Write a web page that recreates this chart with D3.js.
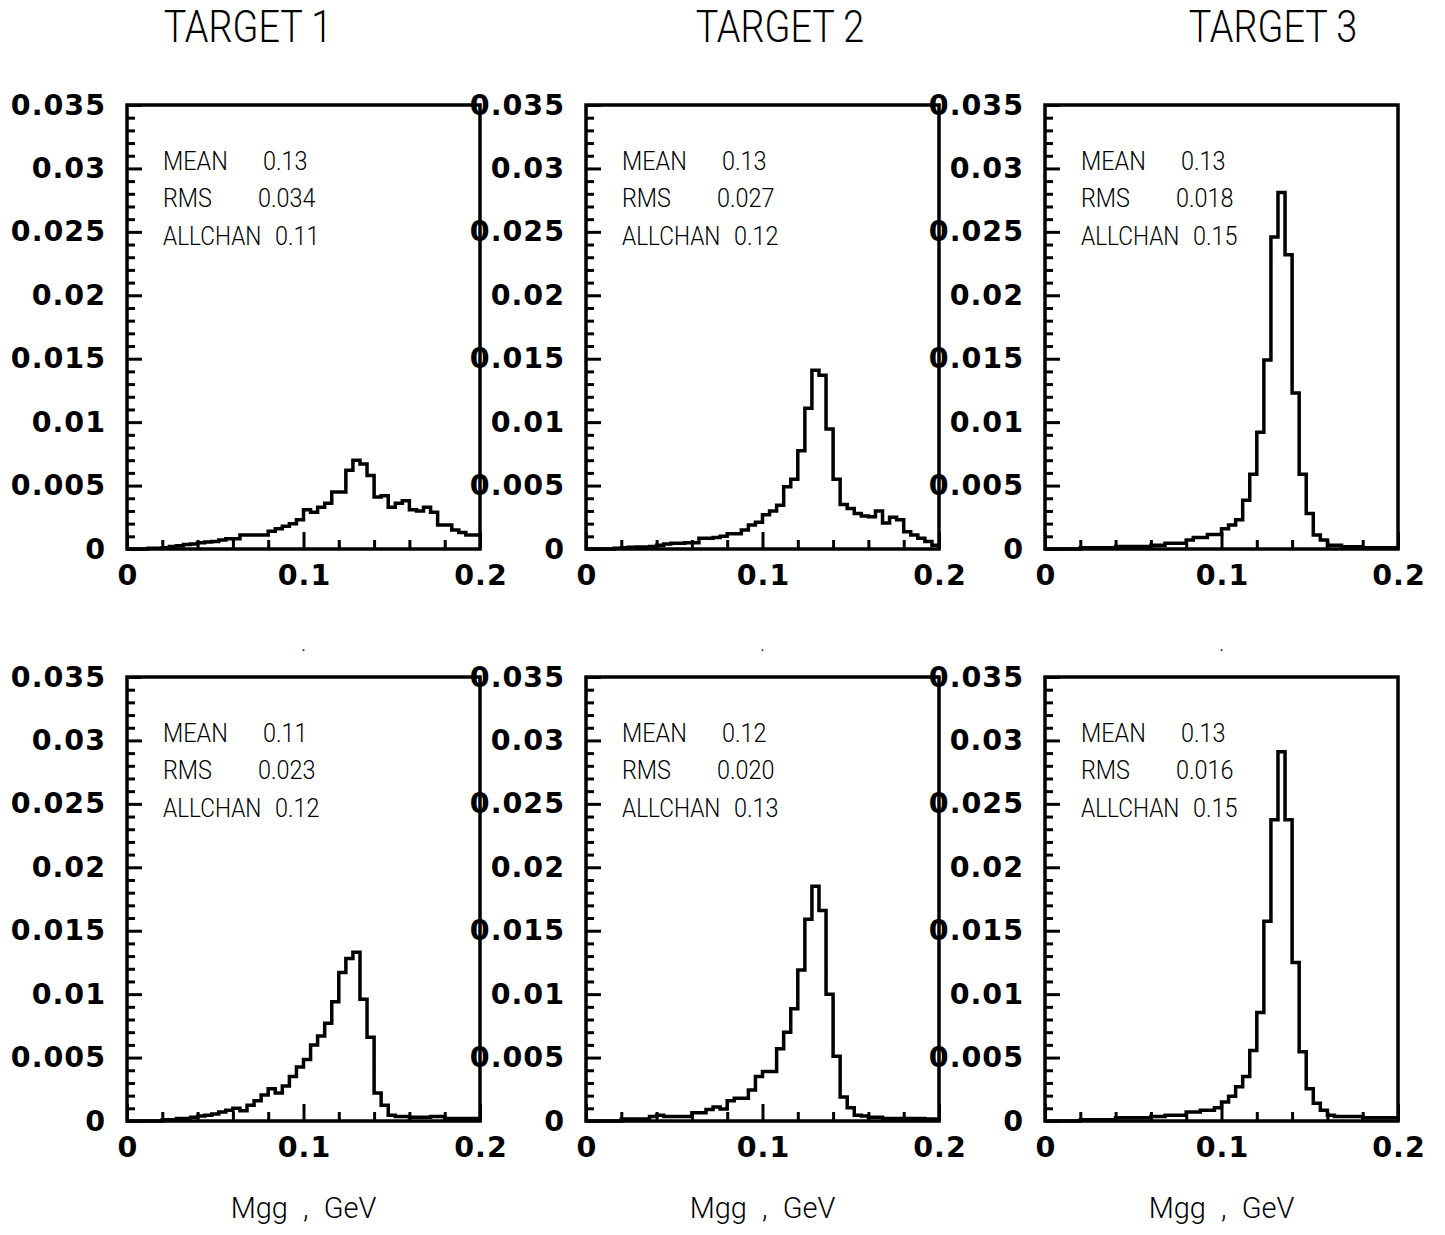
<!DOCTYPE html>
<html>
<head>
<meta charset="utf-8">
<script src="https://cdn.jsdelivr.net/npm/d3@7"></script>
<style>
    body { margin: 0; background: #fff; }
    .frame { fill: none; stroke: #000; stroke-width: 3.5; }
    .hist { fill: none; stroke: #000; stroke-width: 3.5; stroke-linejoin: miter; }
    .tick line { stroke: #000; stroke-width: 3; }
    .ticklabel text { font-family: "DejaVu Sans", sans-serif; font-weight: bold; font-size: 28.5px; letter-spacing: 1px; fill: #000; }
    .thin { font-family: Roboto, "Liberation Sans", sans-serif; font-weight: 300; fill: #000; }
</style>
</head>
<body>
<svg id="chart" width="1445" height="1235"></svg>
<script>
// column titles
var targets = ['TARGET 1', 'TARGET 2', 'TARGET 3'];
var xAxisTitle = 'Mgg , GeV';

// y axis in units of 1e-3
var yMajorTicks = [0, 5, 10, 15, 20, 25, 30, 35];
var yTickLabels = ['0', '0.005', '0.01', '0.015', '0.02', '0.025', '0.03', '0.035'];
var yMinorTicks = [1, 2, 3, 4, 6, 7, 8, 9, 11, 12, 13, 14, 16, 17, 18, 19, 21, 22, 23, 24, 26, 27, 28, 29, 31, 32, 33, 34];
var xMajorTicks = [0, 0.1, 0.2];
var xTickLabels = ['0', '0.1', '0.2'];
var xMinorTicks = [0.02, 0.04, 0.06, 0.08, 0.12, 0.14, 0.16, 0.18];

// statistics boxes, rows x columns
var meanValues = [['0.13', '0.13', '0.13'], ['0.11', '0.12', '0.13']];
var rmsValues = [['0.034', '0.027', '0.018'], ['0.023', '0.020', '0.016']];
var allchanValues = [['0.11', '0.12', '0.15'], ['0.12', '0.13', '0.15']];

// 50 bins of 0.004 GeV, contents in units of 1e-3
var histTopT1 = [0, 0, 0, 0.05, 0.05, 0.1, 0.2, 0.25, 0.35, 0.4,
    0.5, 0.55, 0.6, 0.7, 0.8, 0.8, 1.1, 1.1, 1.1, 1.1,
    1.4, 1.6, 1.8, 2.0, 2.3, 3.1, 2.9, 3.3, 3.6, 4.5,
    4.5, 6.2, 7.0, 6.7, 5.8, 4.1, 4.2, 3.3, 3.6, 3.8,
    3.1, 3.0, 3.3, 2.9, 1.9, 1.9, 1.5, 1.3, 1.1, 1.1];
var histTopT2 = [0, 0, 0, 0, 0.05, 0.1, 0.13, 0.15, 0.15, 0.2,
    0.3, 0.4, 0.45, 0.45, 0.5, 0.5, 0.85, 0.85, 0.9, 1.0,
    1.2, 1.2, 1.5, 1.9, 2.1, 2.7, 3.0, 3.45, 4.9, 5.5,
    7.75, 11.1, 14.1, 13.7, 9.45, 5.5, 3.5, 3.2, 2.8, 2.6,
    2.55, 3.0, 2.05, 2.5, 2.3, 1.35, 1.1, 0.85, 0.6, 0.3];
var histTopT3 = [0, 0, 0, 0, 0, 0.1, 0.1, 0.1, 0.1, 0.1,
    0.2, 0.2, 0.2, 0.2, 0.2, 0.3, 0.3, 0.45, 0.45, 0.45,
    0.7, 0.9, 0.9, 1.15, 1.15, 1.6, 1.9, 2.3, 3.85, 5.9,
    9.2, 14.9, 24.6, 28.1, 23.2, 12.3, 5.9, 2.8, 1.1, 0.7,
    0.3, 0.3, 0.18, 0.18, 0.18, 0.1, 0.1, 0.1, 0.1, 0.1];
var histBotT1 = [0, 0, 0, 0, 0, 0.1, 0.1, 0.2, 0.2, 0.3,
    0.4, 0.45, 0.55, 0.7, 0.85, 1.0, 0.8, 1.25, 1.6, 2.05,
    2.55, 2.2, 2.75, 3.5, 4.25, 4.85, 6.0, 6.7, 7.7, 9.4,
    11.7, 12.8, 13.3, 9.6, 6.6, 2.2, 1.25, 0.45, 0.35, 0.35,
    0.3, 0.3, 0.3, 0.35, 0.35, 0.2, 0.2, 0.2, 0.2, 0.2];
var histBotT2 = [0, 0, 0, 0, 0, 0.15, 0.15, 0.15, 0.15, 0.35,
    0.45, 0.35, 0.35, 0.35, 0.35, 0.65, 0.65, 0.9, 1.1, 0.95,
    1.6, 1.8, 1.8, 2.45, 3.5, 3.9, 3.9, 5.7, 7.0, 8.85,
    11.9, 15.9, 18.5, 16.6, 10.0, 5.1, 1.9, 1.05, 0.45, 0.4,
    0.3, 0.3, 0.2, 0.2, 0.2, 0.2, 0.2, 0.2, 0.15, 0.15];
var histBotT3 = [0, 0, 0, 0, 0, 0.1, 0.1, 0.1, 0.1, 0.1,
    0.25, 0.25, 0.25, 0.25, 0.25, 0.35, 0.35, 0.45, 0.45, 0.45,
    0.7, 0.7, 0.85, 0.85, 1.05, 1.5, 1.95, 2.7, 3.5, 5.55,
    8.55, 15.75, 23.75, 29.1, 23.75, 12.5, 5.45, 2.55, 1.4, 0.85,
    0.45, 0.35, 0.35, 0.35, 0.35, 0.25, 0.25, 0.25, 0.25, 0.25];

var histograms = [[histTopT1, histTopT2, histTopT3], [histBotT1, histBotT2, histBotT3]];

const BIN_WIDTH = 0.004;
const PANEL_LEFT = [127, 586, 1045];
const PANEL_TOP = [105, 677];
const PANEL_W = 353;
const PANEL_H = 444;
const TITLE_X = [248, 780, 1273];
const TEXT_SX = 0.9;

var svg = d3.select('#chart');

var addText = function (parent, x, y, str, size, sx, anchor) {
    return parent.append('text')
        .attr('class', 'thin')
        .attr('transform', 'translate(' + x + ',' + y + ') scale(' + sx + ',1)')
        .attr('text-anchor', anchor || 'start')
        .style('font-size', size + 'px')
        .text(str);
};

var drawPanel = function (row, col) {
    var left = PANEL_LEFT[col];
    var top = PANEL_TOP[row];
    var xScale = d3.scaleLinear().domain([0, 0.2]).range([left, left + PANEL_W]);
    var yScale = d3.scaleLinear().domain([0, 35]).range([top + PANEL_H, top]);
    var g = svg.append('g');

    // minor ticks
    g.append('g')
        .attr('transform', 'translate(' + left + ',0)')
        .call(d3.axisLeft(yScale).tickValues(yMinorTicks).tickSize(-8).tickFormat(''))
        .call(function (s) { s.select('.domain').remove(); });
    g.append('g')
        .attr('transform', 'translate(0,' + (top + PANEL_H) + ')')
        .call(d3.axisBottom(xScale).tickValues(xMinorTicks).tickSize(-9).tickFormat(''))
        .call(function (s) { s.select('.domain').remove(); });

    // major ticks with labels
    g.append('g')
        .attr('class', 'ticklabel')
        .attr('transform', 'translate(' + left + ',0)')
        .call(d3.axisLeft(yScale).tickValues(yMajorTicks).tickSize(-15).tickPadding(21)
            .tickFormat(function (d, i) { return yTickLabels[i]; }))
        .call(function (s) { s.select('.domain').remove(); });
    g.append('g')
        .attr('class', 'ticklabel')
        .attr('transform', 'translate(0,' + (top + PANEL_H) + ')')
        .call(d3.axisBottom(xScale).tickValues(xMajorTicks).tickSize(-17).tickPadding(16)
            .tickFormat(function (d, i) { return xTickLabels[i]; }))
        .call(function (s) { s.select('.domain').remove(); })
        .selectAll('text').attr('dx', '0.5');
    g.selectAll('.ticklabel text').attr('fill', '#000');

    // histogram
    var data = histograms[row][col];
    var pts = data.map(function (v, i) { return [i * BIN_WIDTH, v]; });
    pts.push([data.length * BIN_WIDTH, data[data.length - 1]]);
    var line = d3.line()
        .x(function (d) { return xScale(d[0]); })
        .y(function (d) { return yScale(d[1]); })
        .curve(d3.curveStepAfter);
    g.append('path').datum(pts).attr('class', 'hist').attr('d', line);

    g.append('rect').attr('class', 'frame')
        .attr('x', left).attr('y', top).attr('width', PANEL_W).attr('height', PANEL_H);

    // statistics
    addText(g, left + 36, top + 65, 'MEAN', 26, TEXT_SX);
    addText(g, left + 136, top + 65, meanValues[row][col], 26, TEXT_SX);
    addText(g, left + 36, top + 102, 'RMS', 26, TEXT_SX);
    addText(g, left + 131, top + 102, rmsValues[row][col], 26, TEXT_SX);
    addText(g, left + 36, top + 140, 'ALLCHAN', 26, 0.87);
    addText(g, left + 148, top + 140, allchanValues[row][col], 26, TEXT_SX);

    if (row === 0) {
        addText(svg, left + PANEL_W / 2, top + PANEL_H + 102, '.', 22, 1, 'middle');
    } else {
        addText(svg, left + PANEL_W / 2, top + PANEL_H + 97, xAxisTitle, 29, 1, 'middle')
            .style('word-spacing', '8px');
    }
};

targets.forEach(function (t, i) {
    addText(svg, TITLE_X[i], 42, t, 44, 0.86, 'middle');
});
[0, 1].forEach(function (row) {
    [0, 1, 2].forEach(function (col) {
        drawPanel(row, col);
    });
});
</script>
</body>
</html>
